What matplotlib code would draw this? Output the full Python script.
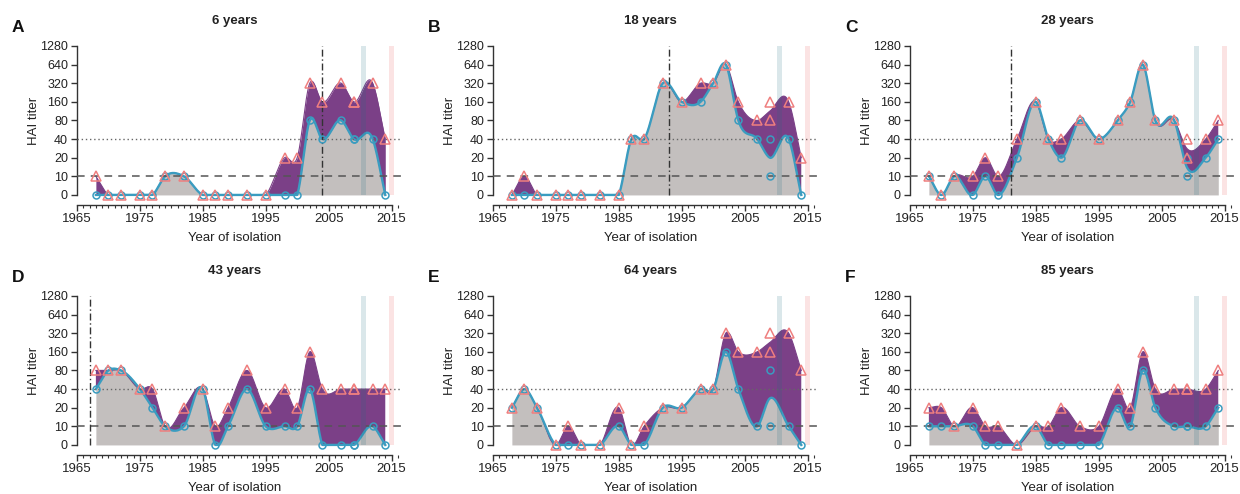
import numpy as np
import matplotlib
matplotlib.use('Agg')
import matplotlib.pyplot as plt
from matplotlib.ticker import MultipleLocator
import matplotlib.transforms as mtransforms

plt.rcParams['font.family'] = ['Liberation Sans', 'DejaVu Sans']

# ---------------- data ----------------
strain_years = [1968, 1970, 1972, 1975, 1977, 1979, 1982, 1985, 1987, 1989,
                1992, 1995, 1998, 2000, 2002, 2004, 2007, 2009, 2009, 2012, 2014]
titer_ticks = [0, 10, 20, 40, 80, 160, 320, 640, 1280]
year_ticks = [1965, 1975, 1985, 1995, 2005, 2015]

panel_letters = ['A', 'B', 'C', 'D', 'E', 'F']
panel_titles = ['6 years', '18 years', '28 years', '43 years', '64 years', '85 years']
birth_years = [2004, 1993, 1981, 1967, None, None]
pre_vacc_strain_year = 2010.55
post_vacc_strain_year = 2015.0

pre_A = [0, 0, 0, 0, 0, 10, 10, 0, 0, 0, 0, 0, 0, 0, 80, 40, 80, 40, 40, 40, 0]
post_A = [10, 0, 0, 0, 0, 10, 10, 0, 0, 0, 0, 0, 20, 20, 320, 160, 320, 160, 160, 320, 40]

pre_B = [0, 0, 0, 0, 0, 0, 0, 0, 40, 40, 320, 160, 160, 320, 640, 80, 40, 40, 10, 40, 0]
post_B = [0, 10, 0, 0, 0, 0, 0, 0, 40, 40, 320, 160, 320, 320, 640, 160, 80, 80, 160, 160, 20]

pre_C = [10, 0, 10, 0, 10, 0, 20, 160, 40, 20, 80, 40, 80, 160, 640, 80, 80, 20, 10, 20, 40]
post_C = [10, 0, 10, 10, 20, 10, 40, 160, 40, 40, 80, 40, 80, 160, 640, 80, 80, 40, 20, 40, 80]

pre_D = [40, 80, 80, 40, 20, 10, 10, 40, 0, 10, 40, 10, 10, 10, 40, 0, 0, 0, 0, 10, 0]
post_D = [80, 80, 80, 40, 40, 10, 20, 40, 10, 20, 80, 20, 40, 20, 160, 40, 40, 40, 40, 40, 40]

pre_E = [20, 40, 20, 0, 0, 0, 0, 10, 0, 0, 20, 20, 40, 40, 160, 40, 10, 80, 10, 10, 0]
post_E = [20, 40, 20, 0, 10, 0, 0, 20, 0, 10, 20, 20, 40, 40, 320, 160, 160, 320, 160, 320, 80]

pre_F = [10, 10, 10, 10, 0, 0, 0, 10, 0, 0, 0, 0, 20, 10, 80, 20, 10, 10, 10, 10, 20]
post_F = [20, 20, 10, 20, 10, 10, 0, 10, 10, 20, 10, 10, 40, 20, 160, 40, 40, 40, 40, 40, 80]

pre_all = [pre_A, pre_B, pre_C, pre_D, pre_E, pre_F]
post_all = [post_A, post_B, post_C, post_D, post_E, post_F]

# ---------------- helpers ----------------
def to_level(t):
    t = np.asarray(t, dtype=float)
    return np.where(t > 0, np.log2(np.maximum(t, 1e-9) / 5.0), 0.0)


def smooth_curve(years, titers, xs):
    years = np.asarray(years, dtype=float)
    lv = to_level(titers)
    ux = np.unique(years)
    uy = np.array([lv[years == u].mean() for u in ux])
    m = np.gradient(uy, ux)
    idx = np.clip(np.searchsorted(ux, xs, side='right') - 1, 0, len(ux) - 2)
    x0 = ux[idx]; x1 = ux[idx + 1]
    h = x1 - x0
    t = (xs - x0) / h
    h00 = 2 * t**3 - 3 * t**2 + 1
    h10 = t**3 - 2 * t**2 + t
    h01 = -2 * t**3 + 3 * t**2
    h11 = t**3 - t**2
    out = h00 * uy[idx] + h10 * h * m[idx] + h01 * uy[idx + 1] + h11 * h * m[idx + 1]
    return np.maximum(out, 0.0)


# ---------------- figure ----------------
W, H = 1240, 494
fig = plt.figure(figsize=(W / 100, H / 100), dpi=100)

col_left = [77, 493, 910]
row_spine = [205, 455]
ax_w_px = 324
ax_h_px = 160

gray = '#c3bfbe'
purple = '#7b4087'
green = '#8fb85a'
teal = '#3a9cc0'
salmon = '#ef7f7f'
txt = '#222222'

xs = np.linspace(1968, 2014, 1500)

for i in range(6):
    r, c = divmod(i, 3)
    left = col_left[c] / W
    bottom = (H - row_spine[r]) / H
    ax = fig.add_axes([left, bottom, ax_w_px / W, ax_h_px / H])

    pre_curve = smooth_curve(strain_years, pre_all[i], xs)
    post_curve = smooth_curve(strain_years, post_all[i], xs)

    ax.fill_between(xs, 0, pre_curve, color=gray, lw=0, zorder=1)
    ax.fill_between(xs, pre_curve, post_curve, where=post_curve >= pre_curve,
                    interpolate=True, color=purple, lw=0, zorder=2)
    ax.fill_between(xs, pre_curve, post_curve, where=post_curve < pre_curve,
                    interpolate=True, color=green, lw=0, zorder=2)
    ax.plot(xs, post_curve, color=purple, lw=0.8, zorder=3)
    ax.plot(xs, pre_curve, color=teal, lw=1.7, zorder=4)

    # reference lines
    ax.axhline(3, color='#666666', lw=1.0, ls=(0, (1, 2)), zorder=5)
    ax.axhline(1, color='#555555', lw=1.1, ls=(0, (5, 4)), zorder=5)
    if birth_years[i] is not None:
        ax.vlines(birth_years[i], 0, 8, color='#333333', lw=1.0,
                  linestyles=(0, (5, 2, 1, 2)), zorder=5)

    # vaccine strain bands
    ax.fill_betweenx([0, 8], pre_vacc_strain_year - 0.35, pre_vacc_strain_year + 0.35,
                     color='#1a6e80', alpha=0.16, lw=0, zorder=6)
    ax.fill_betweenx([0, 8], post_vacc_strain_year - 0.35, post_vacc_strain_year + 0.35,
                     color='#e64545', alpha=0.15, lw=0, zorder=6)

    # markers
    ax.plot(strain_years, to_level(pre_all[i]), ls='none', marker='o', ms=5,
            mfc='none', mec=teal, mew=1.1, zorder=7)
    ax.plot(strain_years, to_level(post_all[i]), ls='none', marker='^', ms=6.8,
            mfc='none', mec=salmon, mew=1.1, zorder=8)

    ax.set_xlim(1965, 2016.5)
    ax.set_ylim(-0.54, 8.05)

    for s in ['top', 'right']:
        ax.spines[s].set_visible(False)
    ax.spines['left'].set_bounds(0, 8)
    ax.spines['bottom'].set_bounds(1965, 2015)
    for s in ['left', 'bottom']:
        ax.spines[s].set_color('#333333')
        ax.spines[s].set_linewidth(1.0)

    ax.set_yticks(range(9))
    ax.set_yticklabels([str(t) for t in titer_ticks])
    ax.set_xticks(year_ticks)
    ax.set_xticklabels([str(y) for y in year_ticks])
    ax.xaxis.set_minor_locator(MultipleLocator(1))
    ax.tick_params(axis='y', length=4.5, width=1.0, pad=2, labelsize=9, color='#333333',
                   labelcolor=txt)
    ax.tick_params(axis='x', which='major', length=4.5, width=1.0, pad=1.5, labelsize=9.5,
                   color='#333333', labelcolor=txt)
    ax.tick_params(axis='x', which='minor', length=2.2, width=0.8, color='#333333')

    ax.set_ylabel('HAI titer', fontsize=9.5, color=txt)
    ax.yaxis.set_label_coords(-0.115, 0.528)
    ax.set_xlabel('Year of isolation', fontsize=9.5, color=txt)
    ax.xaxis.set_label_coords(0.485, -0.17)

    trans = mtransforms.blended_transform_factory(ax.transData, ax.transAxes)
    ax.text(1990, 1.15, panel_titles[i], transform=trans, ha='center', va='center',
            fontsize=9.5, fontweight='bold', color=txt)

    letter_x = (col_left[c] - 65) / W
    letter_y = 1 - (20 + r * 250) / H
    fig.text(letter_x, letter_y, panel_letters[i], ha='left', va='top',
             fontsize=12.5, fontweight='bold', color='#111111')

fig.savefig('out.png', dpi=100)
